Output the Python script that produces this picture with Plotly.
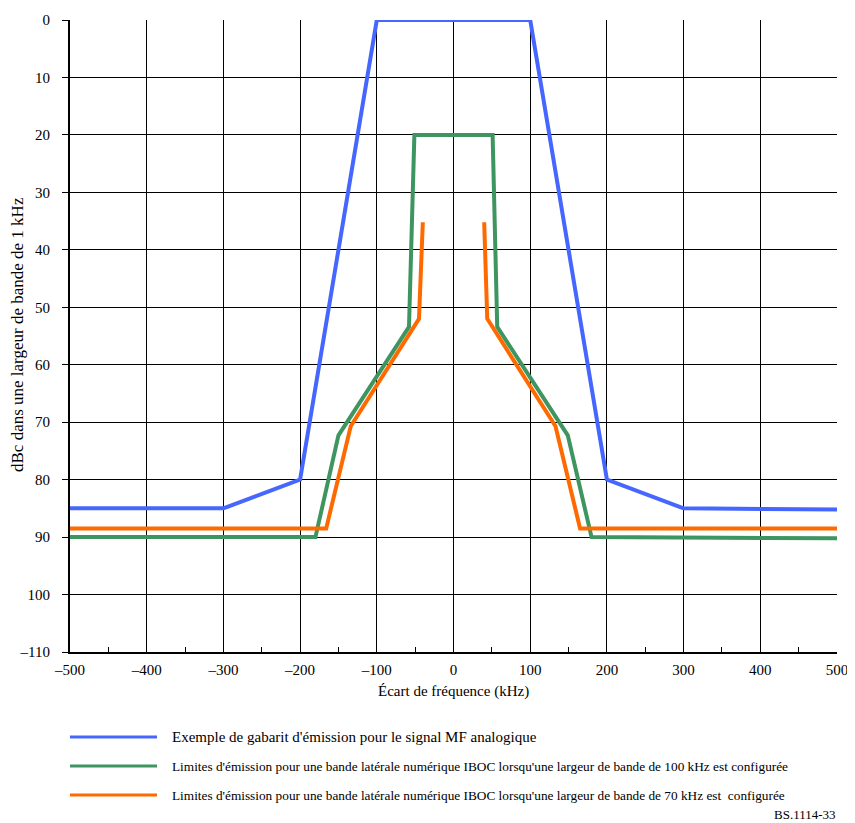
import plotly.graph_objects as go

# Data (frequency offset kHz, dBc attenuation shown downward)
fm_x = [-500, -300, -200, -100, 100, 200, 300, 500]
fm_y = [85, 85, 80, 0, 0, 80, 85, 85.2]

iboc100_x = [-500, -180, -150, -58, -51, 51, 57, 149, 180, 500]
iboc100_y = [90, 90, 72.3, 53.4, 20, 20, 53.4, 72.3, 90, 90.2]

iboc70_x = [-500, -166, -134, -45, -40, None, 40, 44, 133, 165, 500]
iboc70_y = [88.5, 88.5, 70.7, 52, 35.2, None, 35.2, 52, 70.7, 88.5, 88.5]

x_ticks = [-500, -400, -300, -200, -100, 0, 100, 200, 300, 400, 500]
x_ticktext = ["\u2013500", "\u2013400", "\u2013300", "\u2013200", "\u2013100", "0", "100", "200", "300", "400", "500"]
y_ticks = [0, 10, 20, 30, 40, 50, 60, 70, 80, 90, 100, 110]
y_ticktext = ["0", "10", "20", "30", "40", "50", "60", "70", "80", "90", "100", "\u2013110"]

x_title = "Écart de fréquence (kHz)"
y_title = "dBc dans une largeur de bande de 1 kHz"
legend_labels = [
    "Exemple de gabarit d'émission pour le signal MF analogique",
    "Limites d'émission pour une bande latérale numérique IBOC lorsqu'une largeur de bande de 100 kHz est configurée",
    "Limites d'émission pour une bande latérale numérique IBOC lorsqu'une largeur de bande de 70 kHz est  configurée",
]
colors = ["#4566FF", "#3E9560", "#FF6A00"]

FONT = "Liberation Serif"
OFF = 8  # browser body margin
W, H = 855 - OFF, 823 - OFF
L, T = 70 - OFF, 20 - OFF
PW, PH = 767, 632
R = W - L - PW
B = H - T - PH

fig = go.Figure()
series = [(fm_x, fm_y), (iboc100_x, iboc100_y), (iboc70_x, iboc70_y)]
for (xs, ys), c, name in zip(series, colors, legend_labels):
    fig.add_trace(go.Scatter(x=xs, y=ys, mode="lines", line=dict(color=c, width=4),
                             name=name, showlegend=False, connectgaps=False))

fig.update_layout(
    width=W, height=H,
    margin=dict(l=L, r=R, t=T, b=B, pad=0, autoexpand=False),
    paper_bgcolor="white", plot_bgcolor="white",
    font=dict(family=FONT, size=15, color="black"),
    xaxis=dict(range=[-500, 500], tickvals=x_ticks, ticktext=x_ticktext,
               automargin=False,
               showgrid=True, gridcolor="black", gridwidth=1.3,
               showline=True, linecolor="black", linewidth=2,
               ticks="inside", ticklen=5, tickcolor="black",
               ticklabelstandoff=3,
               minor=dict(ticks="inside", ticklen=5, dtick=50, tickcolor="black", showgrid=False),
               zeroline=False,
               tickfont=dict(size=15, family=FONT)),
    yaxis=dict(range=[110, 0], tickvals=y_ticks, ticktext=y_ticktext,
               automargin=False,
               showgrid=True, gridcolor="black", gridwidth=1.3,
               showline=True, linecolor="black", linewidth=2,
               ticks="outside", ticklen=6, tickcolor="black",
               ticklabelstandoff=9,
               zeroline=False,
               tickfont=dict(size=15, family=FONT)),
)

def py(pix):
    return (H - B - (pix - OFF)) / PH

def px(pix):
    return (pix - OFF - L) / PW

# axis titles
fig.add_annotation(xref="paper", yref="paper", x=px(453), y=py(691), text=x_title,
                   showarrow=False, xanchor="center", yanchor="middle",
                   font=dict(size=15, family=FONT))
fig.add_annotation(xref="paper", yref="paper", x=px(17), y=py(335), text=y_title,
                   showarrow=False, xanchor="center", yanchor="middle", textangle=-90,
                   font=dict(size=17, family=FONT))

rows = [737, 766, 795]
sizes = [15, 13.3, 13.3]
for lab, c, yy, sz in zip(legend_labels, colors, rows, sizes):
    fig.add_shape(type="line", xref="paper", yref="paper",
                  x0=px(70), x1=px(157), y0=py(yy), y1=py(yy),
                  line=dict(color=c, width=3))
    fig.add_annotation(xref="paper", yref="paper", x=px(170), y=py(yy),
                       text=lab, showarrow=False, xanchor="left", yanchor="middle",
                       font=dict(size=sz, family=FONT))

fig.add_annotation(xref="paper", yref="paper", x=px(838), y=py(814),
                   text="BS.1114-33", showarrow=False, xanchor="right", yanchor="middle",
                   font=dict(size=13, family=FONT))

fig.write_html("out.html")
